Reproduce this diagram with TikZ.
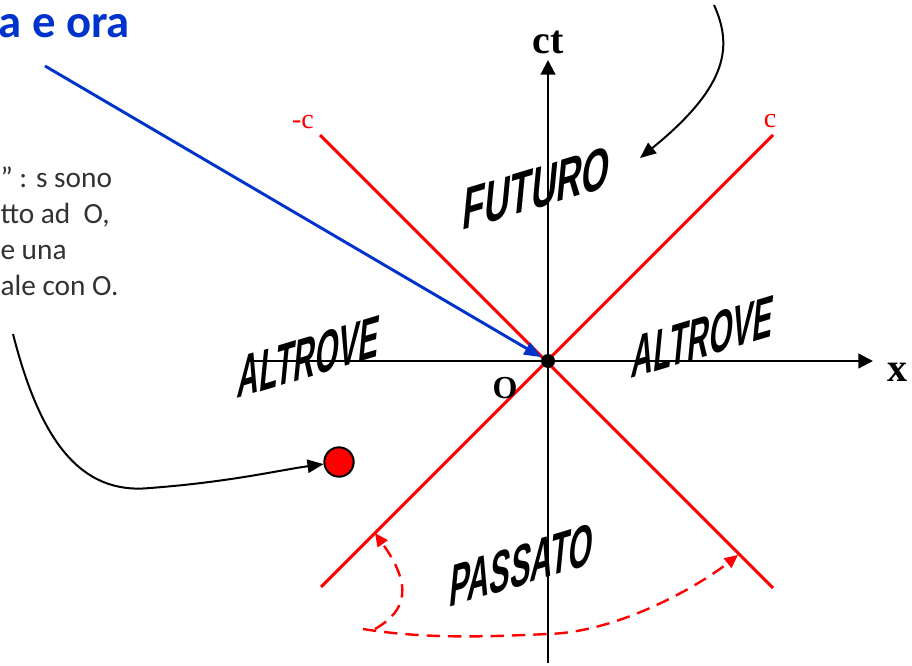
\documentclass[tikz,border=0pt]{standalone}
\usepackage{fontspec}
\setmainfont{Liberation Serif}
\newfontfamily\slidefont{Carlito}
\newfontfamily\artfont{Liberation Sans}
\usetikzlibrary{arrows.meta}

\definecolor{titleblue}{RGB}{0,51,204}
\definecolor{notegray}{RGB}{50,50,50}

\tikzset{every picture/.style={line width=0.75pt}}
\tikzset{
  axis/.style={line width=1.6pt,-{Triangle[length=11pt,width=11pt]}},
  cone/.style={color=red,line width=2.2pt},
  pointer/.style={line width=1.5pt,-{Triangle[length=12pt,width=10pt]}},
  swing/.style={color=red,line width=1.8pt,dash pattern=on 10pt off 6pt,-{Triangle[length=10pt,width=9pt]}},
  zone/.style={font=\artfont\bfseries\fontsize{44}{44}\selectfont,inner sep=0pt,yslant=0.3,xslant=0.1},
}

\begin{document}
\begin{tikzpicture}[x=0.75pt,y=0.75pt,yscale=-1,xscale=1]
\useasboundingbox (0,0) rectangle (912,666);

%Points
\coordinate (xstart) at (248,361);
\coordinate (xend) at (873,361);
\coordinate (tbot) at (548,663);
\coordinate (ttop) at (548,60);
\coordinate (cnw) at (320,135);
\coordinate (cse) at (773,588);
\coordinate (cne) at (773,135);
\coordinate (csw) at (321,587);
\coordinate (bstart) at (45,66);
\coordinate (lstart) at (13,334);
\coordinate (rstart) at (714,5);
\coordinate (rend) at (640,158);

%Straight Lines (axes)
\draw[axis] (xstart) -- (xend);
\draw[axis] (tbot) -- (ttop);
%Straight Lines (light cone)
\draw[cone] (cnw) -- (cse);
\draw[cone] (cne) -- (csw);

%Shape: Circle (origin)
\node[circle,fill=black,inner sep=0pt,minimum size=10.5pt] (orig) at (548,361) {};
%Straight Lines (blue)
\draw[titleblue,line width=2.2pt,-{Triangle[length=13pt,width=10pt]}] (bstart) -- (orig);

%Shape: Circle (event)
\node[circle,draw=black,fill=red,line width=1.5pt,minimum size=22pt,inner sep=0pt] (evento) at (339,462) {};

%Curve Lines
\draw[pointer] (lstart) .. controls (40,440) and (80,495) .. (150,488) .. controls (230,482) and (280,470) .. (evento);
\draw[pointer] (rstart) .. controls (732,45) and (730,85) .. (rend);

%Curve Lines (dashed)
\draw[swing] (375,629) .. controls (408,610) and (412,585) .. (375,533);
\draw[swing] (363,629) .. controls (430,640) and (500,636) .. (548,634) .. controls (620,632) and (700,585) .. (738,555);

% Text Node
\node[font=\bfseries\fontsize{30}{30}\selectfont] (ctlab) at (548,42) {ct};
% Text Node
\node[font=\bfseries\fontsize{30}{30}\selectfont] (xlab) at (897,372) {x};
% Text Node
\node[font=\bfseries\fontsize{24}{24}\selectfont] (olab) at (505,388) {O};
% Text Node
\node[text=red,font=\fontsize{21}{21}\selectfont] (cminus) at (303,122) {-c};
% Text Node
\node[text=red,font=\fontsize{21}{21}\selectfont] (cplus) at (770,121) {c};
% Text Node
\node[anchor=base west,inner sep=0pt,text=titleblue,font=\slidefont\bfseries\fontsize{35}{40}\selectfont] (titolo) at (-2,38) {a e ora};
% Text Node
\node[anchor=north west,inner sep=0pt,align=left,text=notegray,font=\slidefont\fontsize{22}{27}\selectfont] (nota) at (0,166) {” : s sono\\tto ad~ O,\\e una\\ale con O.};

% Text Node (zones)
\node[zone,xscale=0.6] (futuro) at (537,188) {FUTURO};
\node[zone,xscale=0.51] (altrovesx) at (309,357) {ALTROVE};
\node[zone,xscale=0.51] (altrovedx) at (703,337) {ALTROVE};
\node[zone,xscale=0.52] (passato) at (522,565) {PASSATO};

\end{tikzpicture}
\end{document}
